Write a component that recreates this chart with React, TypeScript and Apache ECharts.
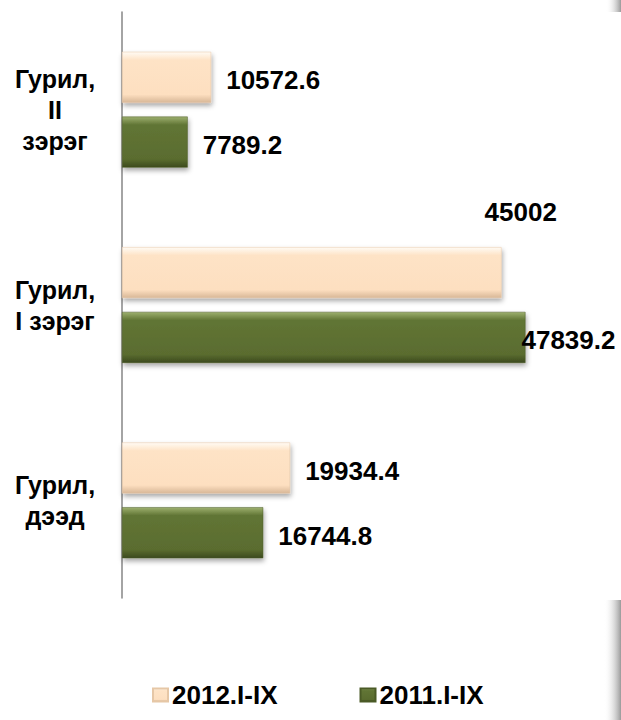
import React, { useEffect, useRef } from "react";
import * as echarts from "echarts";

const categories = ["Гурил,\nII\nзэрэг", "Гурил,\nI зэрэг", "Гурил,\nдээд"];
const seriesNames = ["2012.I-IX", "2011.I-IX"];
const values2012 = [10572.6, 45002, 19934.4];
const values2011 = [7789.2, 47839.2, 16744.8];
const labelTexts2012 = ["10572.6", "45002", "19934.4"];
const labelTexts2011 = ["7789.2", "47839.2", "16744.8"];

const FONT = "'Liberation Sans', Arial, sans-serif";

const peachFill = new echarts.graphic.LinearGradient(0, 0, 0, 1, [
  { offset: 0, color: "#FFFBF4" },
  { offset: 0.16, color: "#FEE3C6" },
  { offset: 0.84, color: "#FDDFC0" },
  { offset: 1, color: "#D8B797" },
]);
const greenFill = new echarts.graphic.LinearGradient(0, 0, 0, 1, [
  { offset: 0, color: "#9DB06E" },
  { offset: 0.16, color: "#617535" },
  { offset: 0.84, color: "#5A6C2F" },
  { offset: 1, color: "#3C4A1E" },
]);

export default function App() {
  const ref = useRef<HTMLDivElement>(null);
  useEffect(() => {
    if (!ref.current) return;
    const chart = echarts.init(ref.current, undefined, { renderer: "svg" });

    const labelBase = {
      show: true,
      position: "right",
      distance: 15,
      color: "#000",
      fontFamily: FONT,
      fontWeight: "bold",
      fontSize: 26,
      offset: [0, 3],
    };

    const overrides2012: Record<number, any> = {
      1: { distance: 0, offset: [-17, -61] },
    };
    const overrides2011: Record<number, any> = {
      1: { distance: 0, offset: [-4, 3] },
    };

    const data2012 = values2012.map((v, i) => ({
      value: v,
      label: { ...labelBase, ...(overrides2012[i] || {}), formatter: labelTexts2012[i] },
    }));
    const data2011 = values2011.map((v, i) => ({
      value: v,
      label: { ...labelBase, ...(overrides2011[i] || {}), formatter: labelTexts2011[i] },
    }));

    const shadow = {
      shadowColor: "rgba(0,0,0,0.35)",
      shadowBlur: 5,
      shadowOffsetY: 3,
      shadowOffsetX: 1,
    };

    chart.setOption({
      animation: false,
      backgroundColor: "#ffffff",
      grid: { left: 122, top: 12, width: 421.7, height: 586, containLabel: false },
      xAxis: {
        type: "value",
        min: 0,
        max: 50000,
        show: false,
      },
      yAxis: {
        type: "category",
        inverse: true,
        data: categories,
        axisLine: { show: true, lineStyle: { color: "#868686", width: 1.5 } },
        axisTick: { show: false },
        splitLine: { show: false },
        axisLabel: {
          margin: 67,
          align: "center",
          color: "#000",
          fontFamily: FONT,
          fontWeight: "bold",
          fontSize: 25,
          lineHeight: 31,
        },
      },
      legend: {
        data: seriesNames,
        left: 152,
        top: 682,
        padding: 0,
        itemGap: 82,
        itemWidth: 15,
        itemHeight: 13,
        icon: "rect",
        textStyle: {
          color: "#000",
          fontFamily: FONT,
          fontWeight: "bold",
          fontSize: 26,
          padding: [0, 0, 0, -1],
        },
      },
      series: [
        {
          name: seriesNames[0],
          type: "bar",
          barWidth: 51,
          barGap: "27%",
          data: data2012,
          itemStyle: { color: peachFill, borderColor: "#E6C7A6", borderWidth: 0.5, ...shadow },
        },
        {
          name: seriesNames[1],
          type: "bar",
          barWidth: 51,
          barGap: "27%",
          data: data2011,
          itemStyle: { color: greenFill, borderColor: "#4A5A26", borderWidth: 0.5, ...shadow },
        },
      ],
      graphic: [
        {
          type: "rect",
          shape: { x: 606, y: 0, width: 15, height: 12 },
          style: {
            fill: new echarts.graphic.LinearGradient(0, 0, 1, 0, [
              { offset: 0, color: "rgba(255,255,255,0)" },
              { offset: 1, color: "#9a9a9a" },
            ]),
          },
          silent: true,
        },
        {
          type: "rect",
          shape: { x: 604, y: 600, width: 17, height: 120 },
          style: {
            fill: new echarts.graphic.LinearGradient(0, 0, 1, 0, [
              { offset: 0, color: "rgba(255,255,255,0)" },
              { offset: 1, color: "#9a9a9a" },
            ]),
          },
          silent: true,
        },
      ],
    });
    return () => chart.dispose();
  }, []);
  return (
    <div
      ref={ref}
      style={{ position: "absolute", left: 0, top: 0, width: 621, height: 720 }}
    />
  );
}
